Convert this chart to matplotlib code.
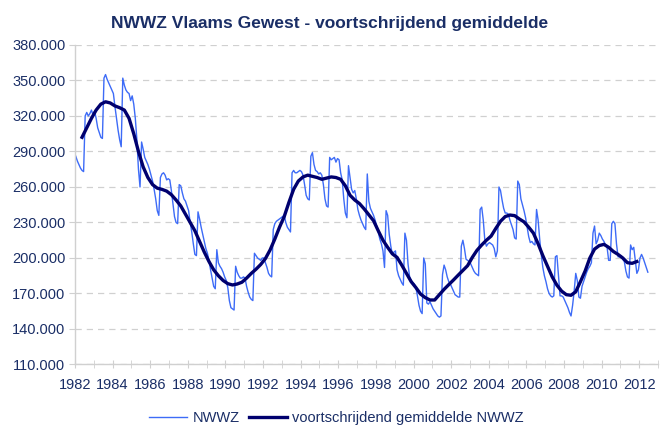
import numpy as np
import matplotlib
matplotlib.use("Agg")
import matplotlib.pyplot as plt
from matplotlib.ticker import FuncFormatter, MultipleLocator

plt.rcParams['font.family'] = ['Liberation Sans', 'DejaVu Sans']

# NWWZ, monthly, in thousands (Jan 1982 - Jun 2012)
nwwz = [
    286, 282, 279, 276, 274, 273, 320, 323, 320, 322, 325, 321,  # 1982
    324, 318, 310, 306, 302, 301, 352, 355, 351, 348, 345, 342,  # 1983
    339, 328, 318, 308, 300, 294, 352, 346, 342, 340, 339, 333,  # 1984
    337, 330, 318, 300, 275, 260, 298, 292, 285, 282, 279, 275,  # 1985
    270, 265, 258, 250, 240, 236, 268, 271, 272, 270, 266, 267,  # 1986
    266, 257, 246, 235, 230, 229, 262, 261, 255, 250, 248, 244,  # 1987
    240, 230, 222, 212, 203, 202, 239, 233, 226, 220, 214, 208,  # 1988
    204, 198, 190, 183, 176, 174, 207, 196, 193, 191, 188, 184,  # 1989
    181, 175, 164, 158, 157, 156, 193, 188, 185, 183, 183, 184,  # 1990
    183, 176, 171, 167, 165, 164, 204, 202, 200, 199, 198, 200,  # 1991
    200, 196, 192, 187, 185, 184, 224, 229, 231, 232, 233, 234,  # 1992
    235, 236, 230, 226, 224, 222, 272, 274, 272, 272, 273, 274,  # 1993
    273, 270, 262, 253, 250, 249, 286, 289, 279, 274, 273, 271,  # 1994
    272, 270, 262, 250, 244, 243, 285, 283, 284, 285, 281, 284,  # 1995
    283, 272, 266, 250, 238, 234, 278, 268, 258, 255, 257, 250,  # 1996
    241, 236, 232, 229, 226, 224, 271, 248, 242, 239, 236, 232,  # 1997
    227, 222, 216, 212, 206, 192, 240, 236, 220, 210, 203, 205,  # 1998
    206, 190, 185, 182, 179, 177, 221, 215, 195, 184, 181, 179,  # 1999
    178, 175, 168, 160, 155, 153, 200, 195, 162, 161, 163, 160,  # 2000
    157, 155, 153, 151, 150, 151, 186, 194, 190, 184, 180, 178,  # 2001
    175, 172, 169, 168, 167, 167, 210, 215, 208, 199, 198, 197,  # 2002
    195, 192, 189, 187, 186, 185, 241, 243, 232, 215, 210, 212,  # 2003
    213, 212, 211, 208, 201, 206, 260, 257, 249, 242, 238, 238,  # 2004
    237, 232, 228, 224, 217, 216, 265, 262, 250, 245, 240, 234,  # 2005
    226, 218, 213, 214, 212, 211, 241, 232, 216, 203, 192, 185,  # 2006
    180, 174, 170, 168, 167, 168, 201, 202, 185, 168, 168, 167,  # 2007
    164, 161, 158, 154, 151, 160, 172, 187, 181, 167, 166, 176,  # 2008
    180, 184, 188, 191, 193, 196, 221, 227, 212, 215, 221, 219,  # 2009
    216, 214, 211, 209, 198, 198, 229, 231, 229, 212, 201, 201,  # 2010
    202, 199, 197, 189, 184, 183, 211, 207, 209, 198, 187, 190,  # 2011
    200, 203, 200, 196, 192, 188,                                # 2012
]

# moving average, read quarterly from mid 1982 to end 2011
ma_start = 1982.375
ma = [
    302, 310, 318, 325, 330, 332, 331, 328.5, 327, 325, 318, 305,
    290, 277, 268, 262, 259, 258, 256.5, 253.5, 249, 244, 237, 230,
    223, 214, 205, 197, 190, 185, 181, 178.3, 177.2, 178, 179.5, 183,
    187, 190.5, 194.5, 199.5, 206.8, 216, 226, 235, 247, 258, 265, 268.5,
    270, 269, 268, 266.5, 267.5, 268.5, 268, 266.5, 261, 253, 249, 246,
    241.5, 236.5, 231.5, 223, 215, 209, 203.5, 200.5, 194, 187, 180, 175,
    169.5, 166.5, 164.5, 164.5, 169, 173.5, 177.5, 181.4, 185.5, 189.5, 193.5, 200.5,
    206.5, 211, 215, 218.5, 225, 231, 235, 236.3, 235.8, 233, 230.5, 226,
    221, 212, 202, 193, 184, 177, 172, 169, 168.5, 171.5, 180, 189,
    200, 207.5, 210.5, 211.5, 209, 205.5, 203, 200, 196, 195.5, 197,
]

year_labels = list(range(1982, 2013, 2))

navy = "#1A2E66"
x_nwwz = 1982 + (np.arange(len(nwwz)) + 0.5) / 12
x_ma = ma_start + 0.25 * np.arange(len(ma))

fig = plt.figure(figsize=(6.6, 4.26), dpi=100)
ax = fig.add_axes([0.1136, 0.1444, 0.8834, 0.75])

ax.plot(x_nwwz, nwwz, color="#3D6BF7", lw=1.0, label="NWWZ")
ax.plot(x_ma, ma, color="#00006E", lw=2.4, label="voortschrijdend gemiddelde NWWZ")

ax.set_xlim(1982, 2013)
ax.set_ylim(110, 380)
ax.set_yticks(np.arange(110, 381, 30))
ax.set_xticks(year_labels)
ax.xaxis.set_minor_locator(MultipleLocator(1))
ax.yaxis.set_major_formatter(FuncFormatter(lambda v, p: f"{v * 1000:,.0f}".replace(",", ".")))

ax.grid(axis="y", color="#D0D0D0", linestyle=(0, (5, 4)), lw=0.9)
ax.set_axisbelow(True)
for s in ["top", "right"]:
    ax.spines[s].set_visible(False)
for s in ["left", "bottom"]:
    ax.spines[s].set_color("#D0D0D0")
    ax.spines[s].set_linewidth(1.0)

ax.tick_params(axis="x", which="both", direction="inout", length=6, color="#D0D0D0",
               labelsize=10.5, labelcolor=navy, pad=7)
ax.tick_params(axis="y", direction="out", length=4, color="#D0D0D0",
               labelsize=10.5, labelcolor=navy, pad=3)

fig.suptitle("NWWZ Vlaams Gewest - voortschrijdend gemiddelde", x=0.5, y=0.962,
             fontsize=12.5, fontweight="bold", color=navy)

fig.legend(loc="center", bbox_to_anchor=(0.51, 0.018), ncol=2, frameon=False,
           fontsize=10.5, labelcolor=navy, handlelength=2.6, columnspacing=0.6,
           handletextpad=0.4)

fig.savefig("out.png", dpi=100)
